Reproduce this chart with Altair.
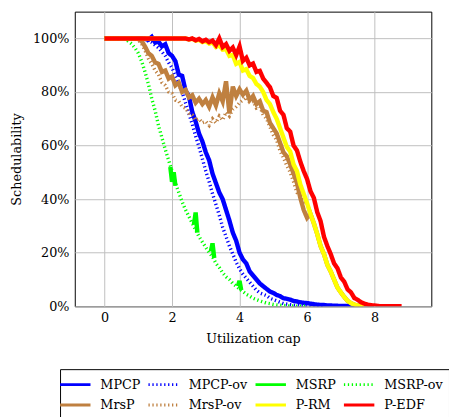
import altair as alt
import pandas as pd

# Utilization grid (x values), step 0.1 from 0 to 8.8
U = [round(i * 0.1, 1) for i in range(89)]

SERIES = ["MPCP", "MPCP-ov", "MSRP", "MSRP-ov", "MrsP", "MrsP-ov", "P-RM", "P-EDF"]
COLORS = ["#0000ff", "#0000ff", "#00ff00", "#00ff00", "#bf8040", "#bf8040", "#ffff00", "#ff0000"]
DASHES = [[1, 0], [1.3, 2.7], [1, 0], [1.3, 2.7], [1, 0], [1.3, 2.7], [1, 0], [1, 0]]
WIDTHS = [4.5, 3.5, 4.5, 3.5, 4.5, 3.5, 4.5, 4.5]

MPCP_START = 11
MPCP = [100, 99.8, 99.5, 100.6, 98.5, 98.8, 97.0, 97.8, 94.5, 93.5, 91.5, 86.5, 86.0, 80.5,
        78.5, 72.5, 69.0, 64.5, 61.5, 57.5, 54.5, 49.5, 46.0, 42.5, 40.0, 36.0, 32.0, 27.5,
        24.5, 20.0, 17.5, 16.0, 13.0, 11.5, 10.0, 8.5, 7.5, 6.5, 5.5, 5.0, 4.2, 3.8, 3.0,
        2.8, 2.5, 2.0, 1.8, 1.5, 1.3, 1.2, 1.0, 0.8, 0.6, 0.5, 0.5, 0.3, 0.3, 0.2, 0.2, 0.1,
        0.1, 0.1, 0, 0]

MPCP_OV_START = 11
MPCP_OV = [100, 99.7, 99.0, 98.5, 97.5, 96.5, 95.0, 93.5, 91.0, 89.0, 86.0, 83.0, 80.0, 76.0,
           72.0, 68.0, 63.5, 59.5, 55.0, 50.5, 46.5, 42.0, 38.0, 34.0, 29.5, 26.0, 22.5, 19.5,
           16.5, 14.0, 12.0, 10.5, 9.0, 7.5, 6.0, 5.0, 4.5, 4.0, 3.0, 2.5, 2.0, 1.5, 1.0, 0.8,
           0.6, 0.4, 0.3, 0.2, 0.1, 0.1, 0, 0, 0, 0, 0]

# MSRP (solid) only shows as short pieces where it departs from MSRP-ov
MSRP_SEG_X = [[1.95, 2.0, 2.05, 2.1], [2.65, 2.7, 2.75], [3.15, 3.2, 3.25], [3.95, 4.0, 4.05]]
MSRP_SEG_Y = [[52.0, 46.5, 50.0, 45.0], [30.5, 35.0, 27.5], [20.5, 23.5, 18.0], [7.5, 9.5, 6.0]]

MSRP_OV_START = 6
MSRP_OV = [100, 99.0, 98.0, 96.5, 94.5, 91.5, 87.5, 83.0, 77.5, 73.0, 67.5, 63.0, 58.5, 54.5,
           50.5, 46.0, 42.5, 39.0, 36.0, 33.5, 31.0, 28.5, 26.0, 24.0, 22.0, 20.0, 18.5, 16.0,
           14.5, 12.5, 11.0, 10.0, 8.5, 7.5, 6.5, 5.5, 4.5, 3.8, 3.0, 2.5, 2.0, 1.6, 1.2, 1.0,
           0.7, 0.5, 0.4, 0.3, 0.2, 0.1, 0.1, 0, 0, 0, 0]

MRSP_START = 9
MRSP = [100, 99.8, 99.0, 97.0, 94.5, 93.5, 91.0, 90.5, 87.5, 88.0, 85.0, 85.8, 82.5, 83.5,
        80.0, 80.8, 78.0, 78.8, 76.0, 77.5, 75.5, 77.0, 74.5, 78.0, 75.0, 79.5, 76.5, 84.0,
        72.0, 82.0, 78.5, 81.0, 79.0, 80.5, 77.0, 78.5, 75.5, 76.5, 73.0, 72.5, 68.5, 66.5,
        64.5, 61.0, 57.5, 56.0, 53.0, 49.5, 46.0, 40.5, 36.0, 33.0, 34.5, 31.0, 27.0, 22.5,
        19.5, 15.5, 13.0, 10.0, 7.0, 5.2, 3.5, 2.0, 1.2, 0.6, 0.3, 0.1, 0]

MRSP_OV_START = 9
MRSP_OV = [100, 99.5, 98.0, 95.5, 92.5, 90.5, 88.0, 86.5, 83.5, 82.5, 80.0, 79.5, 77.0, 76.5,
           74.5, 74.0, 72.0, 71.5, 69.5, 70.0, 68.5, 69.0, 67.5, 70.0, 68.5, 71.0, 69.5, 72.5,
           71.0, 73.5, 74.5, 76.0, 77.0, 78.0, 76.0, 76.5, 74.0, 74.5, 71.5, 70.0, 67.0, 64.0,
           62.0, 58.0, 55.5, 52.5, 50.0, 46.5, 42.5, 41.0, 39.0, 38.5, 34.5, 31.0, 27.0, 22.5,
           19.5, 15.5, 13.0, 10.0, 7.0, 5.2, 3.5, 2.0, 1.2, 0.6, 0.3, 0.1, 0]

PRM_START = 23
PRM = [100, 100, 99.6, 99.9, 99.2, 99.5, 98.6, 99.0, 98.1, 98.5, 96.8, 97.5, 95.8, 96.0,
       93.5, 93.8, 90.5, 91.2, 88.0, 88.5, 86.0, 85.2, 83.0, 82.0, 80.0, 77.0, 75.5, 72.5,
       70.0, 66.5, 63.0, 59.5, 57.8, 53.0, 50.5, 45.5, 42.0, 38.5, 34.5, 31.0, 27.0, 22.5,
       19.5, 15.5, 13.0, 10.0, 7.0, 5.2, 3.5, 2.0, 1.2, 0.6, 0.3, 0.1, 0]

PEDF_START = 23
PEDF = [100, 100, 99.6, 100, 99.3, 99.8, 98.9, 99.5, 98.6, 99.2, 97.5, 100.0, 96.8, 97.9,
        95.4, 96.6, 93.8, 97.0, 91.6, 92.8, 89.9, 90.6, 87.5, 87.9, 85.0, 83.4, 81.8, 78.5,
        77.8, 73.0, 71.5, 66.5, 65.2, 60.0, 58.2, 54.0, 50.5, 47.5, 43.0, 40.5, 35.2, 31.8,
        26.0, 22.5, 19.5, 16.0, 14.2, 10.8, 9.2, 6.3, 5.2, 3.1, 2.4, 1.5, 1.0, 0.6, 0.4, 0.3,
        0.1, 0, 0, 0, 0, 0, 0, 0]

X_TICKS = [0, 2, 4, 6, 8]
Y_TICKS = [0, 20, 40, 60, 80, 100]

rows = []


def add(name, start, vals):
    rows.append({"series": name, "seg": 0, "u": 0.0, "s": 100})
    for u, v in zip(U[start:], vals):
        rows.append({"series": name, "seg": 0, "u": u, "s": v})


add("MPCP", MPCP_START, MPCP)
add("MPCP-ov", MPCP_OV_START, MPCP_OV)
for k, (xs, ys) in enumerate(zip(MSRP_SEG_X, MSRP_SEG_Y)):
    for u, v in zip(xs, ys):
        rows.append({"series": "MSRP", "seg": k, "u": u, "s": v})
add("MSRP-ov", MSRP_OV_START, MSRP_OV)
add("MrsP", MRSP_START, MRSP)
add("MrsP-ov", MRSP_OV_START, MRSP_OV)
add("P-RM", PRM_START, PRM)
add("P-EDF", PEDF_START, PEDF)

df = pd.DataFrame(rows)

FONT = "DejaVu Serif"

xaxis = alt.Axis(values=X_TICKS, title="Utilization cap", titleY=33, titleBaseline="middle",
                 labelPadding=5)
yaxis = alt.Axis(values=Y_TICKS, labelExpr="datum.value + '%'", title="Schedulability",
                 titleX=-59, titleY=150, titleAlign="center", titleBaseline="middle",
                 labelPadding=6)

legend = alt.Legend(title=None, orient="none", legendX=-15, legendY=364, columns=4,
                    direction="horizontal",
                    symbolType="M-2,0H2", symbolSize=240, symbolStrokeWidth=3,
                    labelFont=FONT, labelFontSize=13, labelColor="black", labelOffset=16,
                    columnPadding=2, rowPadding=4, padding=6, strokeColor="black",
                    fillColor="white")

layers = []
for name, w in zip(SERIES, WIDTHS):
    layers.append(
        alt.Chart(df)
        .transform_filter(alt.datum.series == name)
        .mark_line(strokeWidth=w, clip=True)
        .encode(
            x=alt.X("u:Q", scale=alt.Scale(domain=[-0.88, 9.68], nice=False, zero=False), axis=xaxis),
            y=alt.Y("s:Q", scale=alt.Scale(domain=[0, 110], nice=False), axis=yaxis),
            color=alt.Color("series:N", scale=alt.Scale(domain=SERIES, range=COLORS), legend=legend),
            strokeDash=alt.StrokeDash("series:N", scale=alt.Scale(domain=SERIES, range=DASHES), legend=legend),
            detail="seg:N",
            order="u:Q",
        )
    )

chart = (
    alt.layer(*layers)
    .properties(width=363, height=300, autosize=alt.AutoSizeParams(type="none"),
                padding={"left": 68, "top": 0, "right": 18, "bottom": 109})
    .configure_view(stroke="black", strokeWidth=1)
    .configure_axis(labelFont=FONT, titleFont=FONT, labelFontSize=13, titleFontSize=13,
                    titleFontWeight="normal", labelColor="black", titleColor="black",
                    gridColor="#bfbfbf", gridWidth=1, ticks=False, tickSize=0, domain=False)
)

chart.save("out.html", embed_options={"renderer": "svg", "actions": False})
